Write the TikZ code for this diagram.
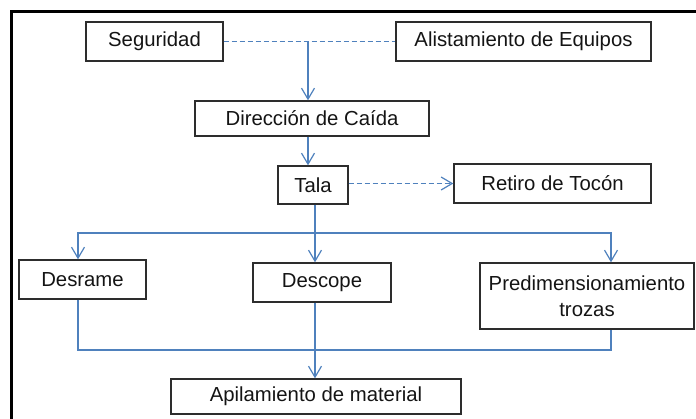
\documentclass[tikz,border=0pt]{standalone}
\usepackage{fontspec}
\setmainfont{Liberation Sans}
\usetikzlibrary{arrows.meta}
\definecolor{linkblue}{RGB}{79,129,189}
\definecolor{boxgray}{RGB}{45,45,45}
\definecolor{textc}{RGB}{20,20,20}
\tikzset{
  box/.style={draw=boxgray, line width=1.4bp, inner sep=0pt, align=center, text=textc,
    font=\fontsize{20.4}{26}\selectfont},
  link/.style={draw=linkblue, line width=1.2bp},
  arr/.style={link, -{Straight Barb[length=11bp,width=13bp,line width=1.2bp]}},
  dlink/.style={link, dash pattern=on 5bp off 3bp},
}
\begin{document}
\begin{tikzpicture}[x=1bp,y=-1bp]
\useasboundingbox (0,0) rectangle (696,418);
\clip (0,0) rectangle (696,418);
\draw[line width=3bp, black] (11.5,440) -- (11.5,11.5) -- (720,11.5);

\node[box, minimum width=137bp, minimum height=39bp] (seg) at (154.5,41.5) {Seguridad};
\node[box, minimum width=255bp, minimum height=39bp] (ali) at (523.5,41.5) {Alistamiento de Equipos};
\node[box, minimum width=234bp, minimum height=35bp] (dir) at (312,118.5) {Dirección de Caída};
\node[box, minimum width=70bp, minimum height=38bp] (tala) at (313,185) {Tala};
\node[box, minimum width=197bp, minimum height=39bp] (ret) at (552.5,183.5) {Retiro de Tocón};
\node[box, minimum width=127bp, minimum height=39bp] (des) at (82.5,279.5) {Desrame};
\node[box, minimum width=138bp, minimum height=39bp] (desc) at (322,282.5) {Descope};
\node[box, minimum width=214bp, minimum height=66bp] (pre) at (587,296) {Predimensionamiento\\trozas};
\node[box, minimum width=290bp, minimum height=35bp] (api) at (316,396.5) {Apilamiento de material};

\coordinate (j1) at (308,41.5);
\coordinate (jb) at (315,233);
\coordinate (bl) at (78,233);
\coordinate (br) at (611,233);
\coordinate (bl2) at (78,350);
\coordinate (br2) at (611,350);

\draw[dlink] (seg.east) -- (ali.west);
\draw[arr] (j1) -- (j1 |- dir.north);
\draw[arr] (dir.south -| j1) -- (tala.north -| j1);
\draw[dlink, -{Straight Barb[length=11bp,width=13bp,line width=1.2bp]}] (tala.east |- ret.west) -- (ret.west);
\draw[link] (tala.south -| jb) -- (jb);
\draw[arr] (jb) -- (desc.north -| jb);
\draw[arr] (jb) -| (bl |- des.north);
\draw[arr] (jb) -| (br |- pre.north);
\draw[link] (bl |- des.south) -- (bl2) -- (br2) -- (br |- pre.south);
\draw[arr] (desc.south -| jb) -- (api.north -| jb);
\end{tikzpicture}
\end{document}
